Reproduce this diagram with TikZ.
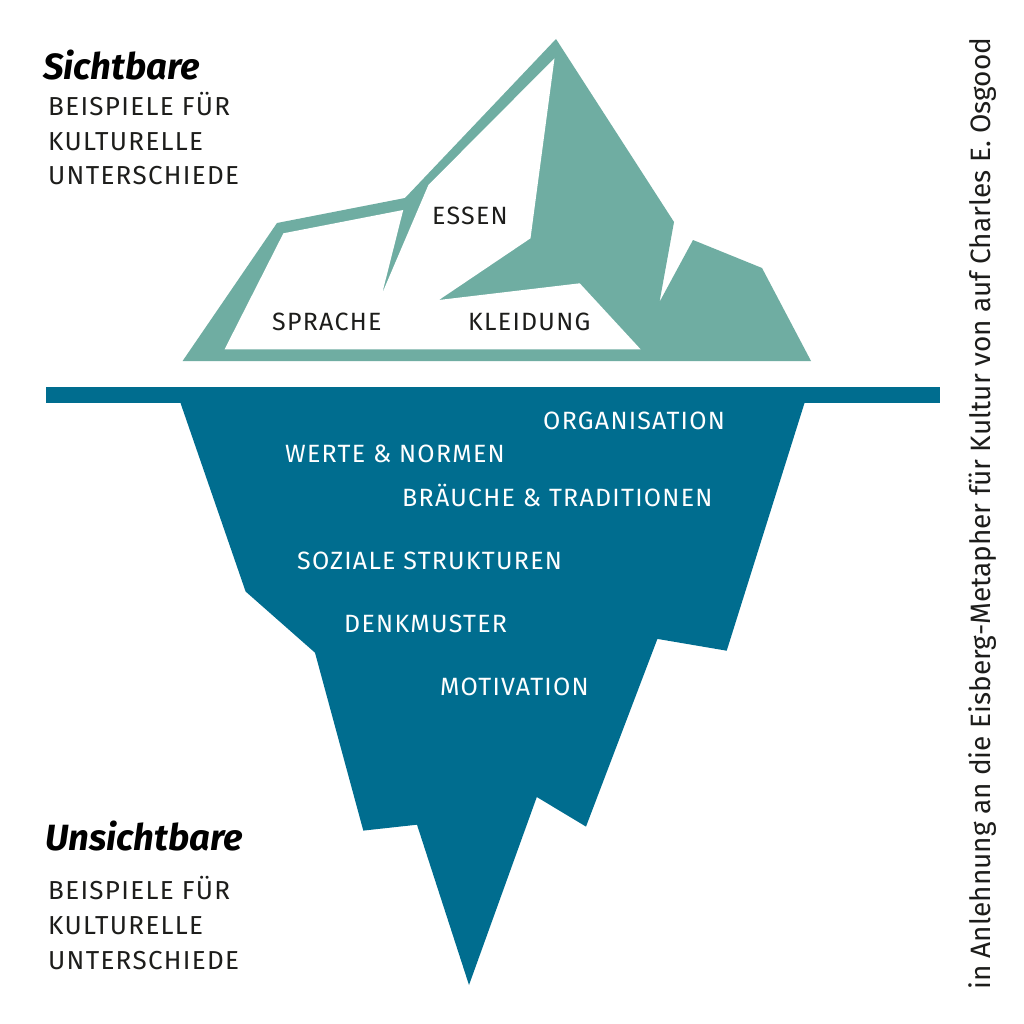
\documentclass[tikz,border=0pt]{standalone}
\usepackage{fontspec}
\setmainfont{Fira Sans}
\newfontfamily\capsfont[LetterSpace=5]{Fira Sans}
\newfontfamily\handfont{Fira Sans}
\newfontfamily\notefont{Fira Sans}
\definecolor{ice}{HTML}{6FADA2}
\definecolor{sea}{HTML}{006D8F}
\definecolor{ink}{HTML}{1D1D1B}

\tikzset{
  word/.style={inner sep=0pt, anchor=base west, text=ink,
    font=\capsfont\fontsize{25}{25}\selectfont},
  deepword/.style={word, text=white},
  sideword/.style={word, font=\capsfont\fontsize{26}{26}\selectfont},
  heading/.style={inner sep=0pt, anchor=base west, text=black,
    font=\handfont\bfseries\itshape\fontsize{36.5}{36.5}\selectfont},
}

\begin{document}
\begin{tikzpicture}[x=1pt,y=-1pt]

\useasboundingbox (0,0) rectangle (1024,1024);
\fill[white] (0,0) rectangle (1024,1024);

% visible part
\fill[ice] (182.6,361) -- (277,223) -- (405,198) -- (556,39) -- (674,222)
  -- (659.5,302) -- (693,240) -- (762,268) -- (811,361) -- cycle;
\fill[white] (224.6,349.3) -- (283.4,233.3) -- (403.2,210) -- (382.2,293.3)
  -- (428.4,185) -- (554.5,58.3) -- (530.5,238.3) -- (438.9,300)
  -- (579.7,283.3) -- (640.6,349.3) -- cycle;

% water line and hidden part
\fill[sea] (46,387) rectangle (940,403);
\fill[sea] (180.5,403) -- (245.6,591.5) -- (315,652.7) -- (363.3,830.6)
  -- (417,824.7) -- (469,985) -- (536.8,797) -- (586,826.6)
  -- (657.4,638.9) -- (726.7,650.7) -- (804.5,403) -- cycle;

\node [word] (essen) at (432,224.5) {ESSEN};
\node [word] (sprache) at (272,330.5) {SPRACHE};
\node [word] (kleidung) at (468,330.5) {KLEIDUNG};

\node [deepword] (orga) at (543,429) {ORGANISATION};
\node [deepword] (werte) at (285,462) {WERTE \& NORMEN};
\node [deepword] (braeuche) at (402,506) {BRÄUCHE \& TRADITIONEN};
\node [deepword] (sozial) at (297,569) {SOZIALE STRUKTUREN};
\node [deepword] (denk) at (344,632) {DENKMUSTER};
\node [deepword] (motiv) at (440,695) {MOTIVATION};

\node [heading] (sicht) at (43,80) {Sichtbare};
\node [sideword] (s1) at (48,116) {BEISPIELE FÜR};
\node [sideword] (s2) at (48,150.5) {KULTURELLE};
\node [sideword] (s3) at (48,185) {UNTERSCHIEDE};

\node [heading] (unsicht) at (45,850) {Unsichtbare};
\node [sideword] (u1) at (48,899) {BEISPIELE FÜR};
\node [sideword] (u2) at (48,934) {KULTURELLE};
\node [sideword] (u3) at (48,969) {UNTERSCHIEDE};

\node [inner sep=0pt, anchor=base west, rotate=90, text=ink,
  font=\notefont\fontsize{28}{28}\selectfont] (quelle) at (990,990)
  {in Anlehnung an die Eisberg-Metapher für Kultur von auf Charles E. Osgood};

\end{tikzpicture}
\end{document}
